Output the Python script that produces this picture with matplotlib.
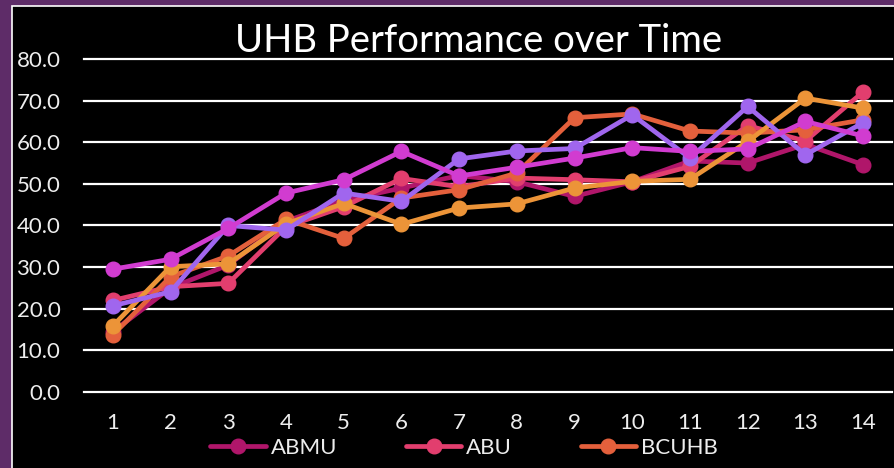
import matplotlib
matplotlib.use("Agg")
import matplotlib.pyplot as plt
from matplotlib.patches import Rectangle

# --- Data ---
periods = list(range(1, 15))
series_names = ["ABMU", "ABU", "BCUHB", "C&V", "CTM", "HDU"]
abmu  = [14.5, 25.0, 30.5, 41.0, 46.0, 49.0, 52.0, 50.5, 47.0, 50.5, 55.5, 55.0, 59.5, 54.6]
abu   = [22.0, 25.3, 26.1, 39.7, 44.5, 51.3, 49.3, 51.4, 51.0, 50.5, 54.2, 64.0, 60.3, 72.1]
bcuhb = [13.7, 27.7, 32.7, 41.5, 36.9, 46.6, 48.6, 52.6, 65.9, 66.8, 62.7, 62.2, 63.0, 65.4]
cv    = [15.9, 30.1, 30.8, 40.4, 45.3, 40.3, 44.2, 45.2, 49.0, 50.6, 51.1, 60.2, 70.6, 68.2]
ctm   = [20.7, 24.1, 40.0, 38.9, 47.8, 45.8, 56.0, 57.9, 58.5, 66.6, 56.2, 68.6, 57.0, 64.7]
hdu   = [29.5, 31.9, 39.3, 47.8, 51.0, 57.8, 51.9, 54.0, 56.2, 58.7, 57.8, 58.4, 65.0, 61.5]
y_ticks = [0, 10, 20, 30, 40, 50, 60, 70, 80]

all_series = [abmu, abu, bcuhb, cv, ctm, hdu]
colors = ["#B0166A", "#E23E6E", "#E4603C", "#EC9438", "#A066EE", "#D13CD0"]

# --- Style ---
FONT = ["Lato", "DejaVu Sans"]
TEXT_COLOR = "#EDEDED"
PURPLE = "#5E2C68"
W, H = 894, 468

fig = plt.figure(figsize=(W / 100, H / 100), dpi=100, facecolor=PURPLE)

# black chart area with thin white edge (behind the axes)
fig.patches.append(Rectangle((12 / W, -0.01), 1.0, 1 - 6 / H + 0.01,
                             transform=fig.transFigure, facecolor="black",
                             edgecolor="white", linewidth=1.2, zorder=-5))

ax = fig.add_axes([84 / W, (H - 392) / H, (892 - 84) / W, (392 - 59) / H])
ax.set_facecolor("black")
for s in ax.spines.values():
    s.set_visible(False)

for name, vals, col in zip(series_names, all_series, colors):
    ax.plot(periods, vals, color=col, linewidth=3.4, marker="o",
            markersize=10.5, label=name, solid_capstyle="round")

ax.set_xlim(0.5, 14.5)
ax.set_ylim(0, 80)
ax.set_yticks(y_ticks)
ax.set_yticklabels([f"{v:.1f}" for v in y_ticks], fontfamily=FONT,
                   fontsize=16, color=TEXT_COLOR)
ax.set_xticks(periods)
ax.set_xticklabels([str(p) for p in periods], fontfamily=FONT,
                   fontsize=16, color=TEXT_COLOR)
ax.tick_params(axis="y", length=0, pad=17)
ax.tick_params(axis="x", length=0, pad=15)
ax.grid(axis="y", color="white", linewidth=1.6)
ax.set_axisbelow(True)
for ln in ax.get_ygridlines():
    ln.set_clip_on(False)

fig.text(479 / W, 1 - 41 / H, "UHB Performance over Time", ha="center",
         va="center", fontfamily=FONT, fontsize=27.5, color="white")

# legend: only the first row (ABMU, ABU, BCUHB) is visible in the reference
handles, labels = ax.get_legend_handles_labels()
leg = fig.legend(handles[:3], labels[:3],
                 ncol=3, loc="upper center", bbox_to_anchor=(464 / W, 1 - 418 / H),
                 frameon=False, prop={"family": FONT, "size": 16},
                 handlelength=2.5, handletextpad=0.2, columnspacing=3.1)
for t in leg.get_texts():
    t.set_color(TEXT_COLOR)

fig.savefig("out.png", dpi=100, facecolor=PURPLE)
